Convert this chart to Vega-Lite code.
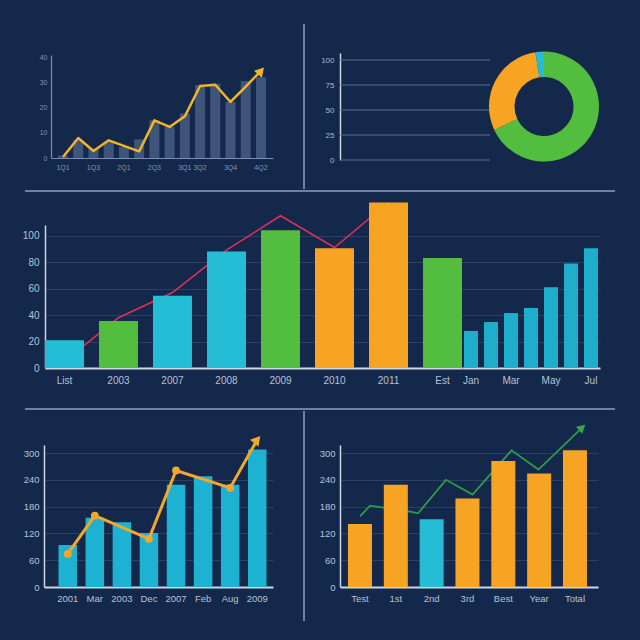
{
  "$schema": "https://vega.github.io/schema/vega-lite/v6.json",
  "background": "#14284b",
  "padding": {"left": 22, "top": 23, "right": 25, "bottom": 19},
  "spacing": 0,
  "config": {
    "view": {"stroke": null},
    "font": "Liberation Sans",
    "axis": {
      "labelColor": "#b6c2d6",
      "labelFont": "Liberation Sans",
      "labelOverlap": false,
      "domainColor": "#cdd6e4",
      "domainWidth": 1.5,
      "ticks": false,
      "gridColor": "#2a4067",
      "gridWidth": 1
    }
  },
  "datasets": {
    "quarters": [
      {"q": "1Q1", "value": 1, "trend": 0.4},
      {"q": "1Q2", "value": 7, "trend": 7.9},
      {"q": "1Q3", "value": 3.7, "trend": 2.8},
      {"q": "1Q4", "value": 6.3, "trend": 7},
      {"q": "2Q1", "value": 4.4, "trend": 4.8},
      {"q": "2Q2", "value": 7.4, "trend": 2.6},
      {"q": "2Q3", "value": 14.9, "trend": 14.9},
      {"q": "2Q4", "value": 12.3, "trend": 12.3},
      {"q": "3Q1", "value": 17.6, "trend": 16.5},
      {"q": "3Q2", "value": 28.9, "trend": 28.5},
      {"q": "3Q3", "value": 29.4, "trend": 29},
      {"q": "3Q4", "value": 22.2, "trend": 22.2},
      {"q": "4Q1", "value": 30.5, "trend": 28.3},
      {"q": "4Q2", "value": 32, "trend": 34.5}
    ],
    "gridlevels": [
      {"level": 0}, {"level": 25}, {"level": 50}, {"level": 75}, {"level": 100}
    ],
    "share": [
      {"segment": "Green", "share": 68, "rank": 1},
      {"segment": "Orange", "share": 29.5, "rank": 2},
      {"segment": "Cyan", "share": 2.5, "rank": 3}
    ],
    "annual": [
      {"period": "List", "value": 21, "series": "Cyan", "trend": 5},
      {"period": "2003", "value": 35.5, "series": "Lime", "trend": 38},
      {"period": "2007", "value": 54.5, "series": "Cyan", "trend": 57},
      {"period": "2008", "value": 88, "series": "Cyan", "trend": 89},
      {"period": "2009", "value": 104, "series": "Green", "trend": 115},
      {"period": "2010", "value": 90.5, "series": "Orange", "trend": 91},
      {"period": "2011", "value": 125, "series": "Orange", "trend": 125},
      {"period": "Est", "value": 83, "series": "Lime"}
    ],
    "monthly": [
      {"period": "Jan", "value": 28},
      {"period": "Feb", "value": 34.7},
      {"period": "Mar", "value": 41.5},
      {"period": "Apr", "value": 45.3},
      {"period": "May", "value": 61},
      {"period": "Jun", "value": 79},
      {"period": "Jul", "value": 90.5}
    ],
    "bl": [
      {"period": "2001", "value": 94, "trend": 74},
      {"period": "Mar", "value": 155, "trend": 160},
      {"period": "2003", "value": 145},
      {"period": "Dec", "value": 121, "trend": 108},
      {"period": "2007", "value": 229, "trend": 261},
      {"period": "Feb", "value": 248},
      {"period": "Aug", "value": 229, "trend": 222},
      {"period": "2009", "value": 308, "trend": 330}
    ],
    "br": [
      {"period": "Test", "value": 141, "kind": "Orange"},
      {"period": "1st", "value": 229, "kind": "Red"},
      {"period": "2nd", "value": 152, "kind": "Gold"},
      {"period": "3rd", "value": 198, "kind": "Orange"},
      {"period": "Best", "value": 282, "kind": "Red"},
      {"period": "Year", "value": 254, "kind": "Orange"},
      {"period": "Total", "value": 306, "kind": "Orange"}
    ],
    "brtrend": [
      {"t": 1.0, "value": 158},
      {"t": 1.28, "value": 182},
      {"t": 2.4, "value": 169},
      {"t": 2.62, "value": 165},
      {"t": 3.4, "value": 240},
      {"t": 4.14, "value": 207},
      {"t": 5.23, "value": 306},
      {"t": 5.98, "value": 263},
      {"t": 7.2, "value": 357}
    ]
  },
  "vconcat": [
    {
      "hconcat": [
        {"width": 29, "height": 1, "data": {"values": []}, "mark": "point"},
        {
          "width": 222,
          "height": 103,
          "data": {"name": "quarters"},
          "encoding": {
            "x": {
              "field": "q", "type": "ordinal", "sort": null, "title": null,
              "scale": {"paddingInner": 0.34, "paddingOuter": 0.46},
              "axis": {
                "values": ["1Q1", "1Q3", "2Q1", "2Q3", "3Q1", "3Q2", "3Q4", "4Q2"],
                "labelAngle": 0, "labelFontSize": 7, "labelPadding": 5,
                "labelColor": "#8795b0", "domainColor": "#7a8db0", "domainWidth": 1.2
              }
            }
          },
          "layer": [
            {
              "mark": {"type": "bar", "color": "#3e5579"},
              "encoding": {
                "y": {
                  "field": "value", "type": "quantitative", "title": null,
                  "scale": {"domain": [0, 40.8], "nice": false},
                  "axis": {
                    "values": [0, 10, 20, 30, 40], "grid": false, "labelOverlap": false,
                    "labelFontSize": 7, "labelPadding": 4,
                    "labelColor": "#8795b0", "domainColor": "#7a8db0", "domainWidth": 1.2
                  }
                }
              }
            },
            {
              "mark": {"type": "line", "color": "#f3b526", "strokeWidth": 2.5, "strokeJoin": "round"},
              "encoding": {
                "y": {
                  "field": "trend", "type": "quantitative", "title": null,
                  "scale": {"domain": [0, 40.8], "nice": false},
                  "axis": {
                    "values": [0, 10, 20, 30, 40], "grid": false, "labelOverlap": false,
                    "labelFontSize": 7, "labelPadding": 4,
                    "labelColor": "#8795b0", "domainColor": "#7a8db0", "domainWidth": 1.2
                  }
                }
              }
            },
            {
              "transform": [{"filter": "datum.q === '4Q2'"}],
              "mark": {"type": "point", "shape": "triangle-up", "filled": true, "opacity": 1, "color": "#f3b526", "size": 110, "angle": 42},
              "encoding": {
                "y": {
                  "field": "trend", "type": "quantitative", "title": null,
                  "scale": {"domain": [0, 40.8], "nice": false},
                  "axis": {
                    "values": [0, 10, 20, 30, 40], "grid": false, "labelOverlap": false,
                    "labelFontSize": 7, "labelPadding": 4,
                    "labelColor": "#8795b0", "domainColor": "#7a8db0", "domainWidth": 1.2
                  }
                }
              }
            }
          ]
        },
        {"width": 31, "height": 1, "data": {"values": []}, "mark": "point"},
        {
          "width": 1,
          "height": 165,
          "data": {"values": [{"v": 0}]},
          "mark": {"type": "rule", "color": "#8fa1bf", "strokeWidth": 1.5},
          "encoding": {"x": {"field": "v", "type": "quantitative", "scale": {"domain": [0, 1]}, "axis": null}}
        },
        {"width": 35, "height": 1, "data": {"values": []}, "mark": "point"},
        {
          "width": 150,
          "height": 107,
          "data": {"name": "gridlevels"},
          "mark": {"type": "rule", "color": "#5b6f94", "strokeWidth": 1},
          "encoding": {
            "y": {
              "field": "level", "type": "quantitative", "title": null,
              "scale": {"domain": [0, 107], "nice": false},
              "axis": {
                "values": [0, 25, 50, 75, 100], "grid": false,
                "labelFontSize": 8, "labelPadding": 6, "labelColor": "#aab7cc"
              }
            }
          }
        },
        {
          "width": 108,
          "height": 110,
          "data": {"name": "share"},
          "mark": {"type": "arc", "innerRadius": 29.5, "outerRadius": 55},
          "encoding": {
            "theta": {"field": "share", "type": "quantitative", "stack": true},
            "order": {"field": "rank", "type": "quantitative"},
            "color": {
              "field": "segment", "type": "nominal",
              "scale": {"domain": ["Green", "Orange", "Cyan"], "range": ["#52bd3e", "#f7a323", "#25bcd6"]},
              "legend": null
            }
          }
        }
      ],
      "spacing": 0,
      "bounds": "flush",
      "center": true
    },
    {
      "hconcat": [
        {"width": 3, "height": 1, "data": {"values": []}, "mark": "point"},
        {
          "width": 590,
          "height": 8,
          "data": {"values": [{"v": 1}]},
          "mark": {"type": "rule", "color": "#8fa1bf", "strokeWidth": 1.5},
          "encoding": {"y": {"field": "v", "type": "quantitative", "scale": {"domain": [0, 1]}, "axis": null}}
        }
      ],
      "spacing": 0,
      "bounds": "flush"
    },
    {
      "hconcat": [
        {"width": 23, "height": 1, "data": {"values": []}, "mark": "point"},
        {
          "width": 417,
          "height": 143,
          "data": {"name": "annual"},
          "encoding": {
            "x": {
              "field": "period", "type": "ordinal", "sort": null, "title": null,
              "scale": {"paddingInner": 0.278, "paddingOuter": 0},
              "axis": {"labelAngle": 0, "labelFontSize": 10, "labelPadding": 7, "domainWidth": 2}
            }
          },
          "layer": [
            {
              "transform": [{"filter": "isValid(datum.trend)"}],
              "mark": {"type": "line", "color": "#d8315b", "strokeWidth": 1.6},
              "encoding": {
                "y": {
                  "field": "trend", "type": "quantitative", "title": null,
                  "scale": {"domain": [0, 108], "nice": false},
                  "axis": {"values": [0, 20, 40, 60, 80, 100], "grid": true, "labelOverlap": false, "labelFontSize": 10, "labelPadding": 6}
                }
              }
            },
            {
              "mark": {"type": "bar"},
              "encoding": {
                "y": {
                  "field": "value", "type": "quantitative", "title": null,
                  "scale": {"domain": [0, 108], "nice": false},
                  "axis": {"values": [0, 20, 40, 60, 80, 100], "grid": true, "labelOverlap": false, "labelFontSize": 10, "labelPadding": 6}
                },
                "color": {
                  "field": "series", "type": "nominal",
                  "scale": {"domain": ["Cyan", "Lime", "Green", "Orange"], "range": ["#1eadca", "#9acb3b", "#4dbb46", "#fba520"]},
                  "legend": null
                }
              }
            }
          ]
        },
        {
          "width": 138,
          "height": 143,
          "data": {"name": "monthly"},
          "mark": {"type": "bar", "color": "#1eaecb"},
          "encoding": {
            "x": {
              "field": "period", "type": "ordinal", "sort": null, "title": null,
              "scale": {"paddingInner": 0.3, "paddingOuter": 0.1},
              "axis": {"values": ["Jan", "Mar", "May", "Jul"], "labelAngle": 0, "labelFontSize": 10, "labelPadding": 7, "domainWidth": 2}
            },
            "y": {
              "field": "value", "type": "quantitative", "title": null,
              "scale": {"domain": [0, 108], "nice": false},
              "axis": {"values": [0, 20, 40, 60, 80, 100], "grid": true, "labels": false, "domain": false}
            }
          }
        }
      ],
      "spacing": 0,
      "bounds": "flush"
    },
    {
      "hconcat": [
        {"width": 3, "height": 1, "data": {"values": []}, "mark": "point"},
        {
          "width": 590,
          "height": 24,
          "data": {"values": [{"v": 0}]},
          "mark": {"type": "rule", "color": "#8fa1bf", "strokeWidth": 1.5},
          "encoding": {"y": {"field": "v", "type": "quantitative", "scale": {"domain": [0, 1]}, "axis": null}}
        }
      ],
      "spacing": 0,
      "bounds": "flush"
    },
    {
      "hconcat": [
        {"width": 22, "height": 1, "data": {"values": []}, "mark": "point"},
        {
          "width": 229,
          "height": 142,
          "data": {"name": "bl"},
          "encoding": {
            "x": {
              "field": "period", "type": "ordinal", "sort": null, "title": null,
              "scale": {"paddingInner": 0.317, "paddingOuter": 0.388, "align": 0.69},
              "axis": {"labelAngle": 0, "labelFontSize": 9.5, "labelPadding": 6, "domainWidth": 1.8}
            },
            "y": {
              "field": "value", "type": "quantitative", "title": null,
              "scale": {"domain": [0, 318], "nice": false},
              "axis": {"values": [0, 60, 120, 180, 240, 300], "grid": true, "labelOverlap": false, "labelFontSize": 9.5, "labelPadding": 5}
            }
          },
          "layer": [
            {
              "mark": {"type": "bar", "color": "#1db1d2"}
            },
            {
              "transform": [{"filter": "isValid(datum.trend)"}],
              "mark": {"type": "line", "color": "#f3a82a", "strokeWidth": 3, "strokeJoin": "round"},
              "encoding": {
                "y": {
                  "field": "trend", "type": "quantitative", "title": null,
                  "scale": {"domain": [0, 318], "nice": false},
                  "axis": {"values": [0, 60, 120, 180, 240, 300], "grid": true, "labelOverlap": false, "labelFontSize": 9.5, "labelPadding": 5}
                }
              }
            },
            {
              "transform": [{"filter": "isValid(datum.trend) && datum.period !== '2009'"}],
              "mark": {"type": "point", "shape": "circle", "filled": true, "opacity": 1, "color": "#f3a82a", "size": 60},
              "encoding": {
                "y": {
                  "field": "trend", "type": "quantitative", "title": null,
                  "scale": {"domain": [0, 318], "nice": false},
                  "axis": {"values": [0, 60, 120, 180, 240, 300], "grid": true, "labelOverlap": false, "labelFontSize": 9.5, "labelPadding": 5}
                }
              }
            },
            {
              "transform": [{"filter": "datum.period === '2009'"}],
              "mark": {"type": "point", "shape": "triangle-up", "filled": true, "opacity": 1, "color": "#f3a82a", "size": 120, "angle": 40},
              "encoding": {
                "y": {
                  "field": "trend", "type": "quantitative", "title": null,
                  "scale": {"domain": [0, 318], "nice": false},
                  "axis": {"values": [0, 60, 120, 180, 240, 300], "grid": true, "labelOverlap": false, "labelFontSize": 9.5, "labelPadding": 5}
                }
              }
            }
          ]
        },
        {"width": 31, "height": 1, "data": {"values": []}, "mark": "point"},
        {
          "width": 1,
          "height": 210,
          "data": {"values": [{"v": 0}]},
          "mark": {"type": "rule", "color": "#8fa1bf", "strokeWidth": 1.5},
          "encoding": {"x": {"field": "v", "type": "quantitative", "scale": {"domain": [0, 1]}, "axis": null}}
        },
        {"width": 35, "height": 1, "data": {"values": []}, "mark": "point"},
        {
          "width": 258,
          "height": 142,
          "layer": [
            {
              "data": {"name": "brtrend"},
              "mark": {"type": "line", "color": "#2e9c47", "strokeWidth": 1.8},
              "encoding": {
                "x": {"field": "t", "type": "quantitative", "scale": {"domain": [0.442, 7.642], "nice": false, "zero": false}, "axis": null},
                "y": {
                  "field": "value", "type": "quantitative", "title": null,
                  "scale": {"domain": [0, 318], "nice": false},
                  "axis": {"values": [0, 60, 120, 180, 240, 300], "grid": true, "labelOverlap": false, "labelFontSize": 9.5, "labelPadding": 5}
                }
              }
            },
            {
              "data": {"name": "br"},
              "mark": {"type": "bar"},
              "encoding": {
                "x": {
                  "field": "period", "type": "ordinal", "sort": null, "title": null,
                  "scale": {"paddingInner": 0.33, "paddingOuter": 0.265, "align": 0.42},
                  "axis": {"labelAngle": 0, "labelFontSize": 9.5, "labelPadding": 6, "domainWidth": 1.8}
                },
                "y": {
                  "field": "value", "type": "quantitative", "title": null,
                  "scale": {"domain": [0, 318], "nice": false},
                  "axis": {"values": [0, 60, 120, 180, 240, 300], "grid": true, "labelOverlap": false, "labelFontSize": 9.5, "labelPadding": 5}
                },
                "color": {
                  "field": "kind", "type": "nominal",
                  "scale": {"domain": ["Orange", "Red", "Gold"], "range": ["#f9a21e", "#ef3f47", "#fcb41d"]},
                  "legend": null
                }
              }
            },
            {
              "data": {"name": "brtrend"},
              "transform": [{"filter": "datum.t > 7"}],
              "mark": {"type": "point", "shape": "triangle-up", "filled": true, "opacity": 1, "color": "#36a84f", "size": 90, "angle": 48},
              "encoding": {
                "x": {"field": "t", "type": "quantitative", "scale": {"domain": [0.442, 7.642], "nice": false, "zero": false}, "axis": null},
                "y": {
                  "field": "value", "type": "quantitative", "title": null,
                  "scale": {"domain": [0, 318], "nice": false},
                  "axis": {"values": [0, 60, 120, 180, 240, 300], "grid": true, "labelOverlap": false, "labelFontSize": 9.5, "labelPadding": 5}
                }
              }
            }
          ],
          "resolve": {"scale": {"x": "independent"}}
        }
      ],
      "spacing": 0,
      "bounds": "flush",
      "center": true
    }
  ]
}
